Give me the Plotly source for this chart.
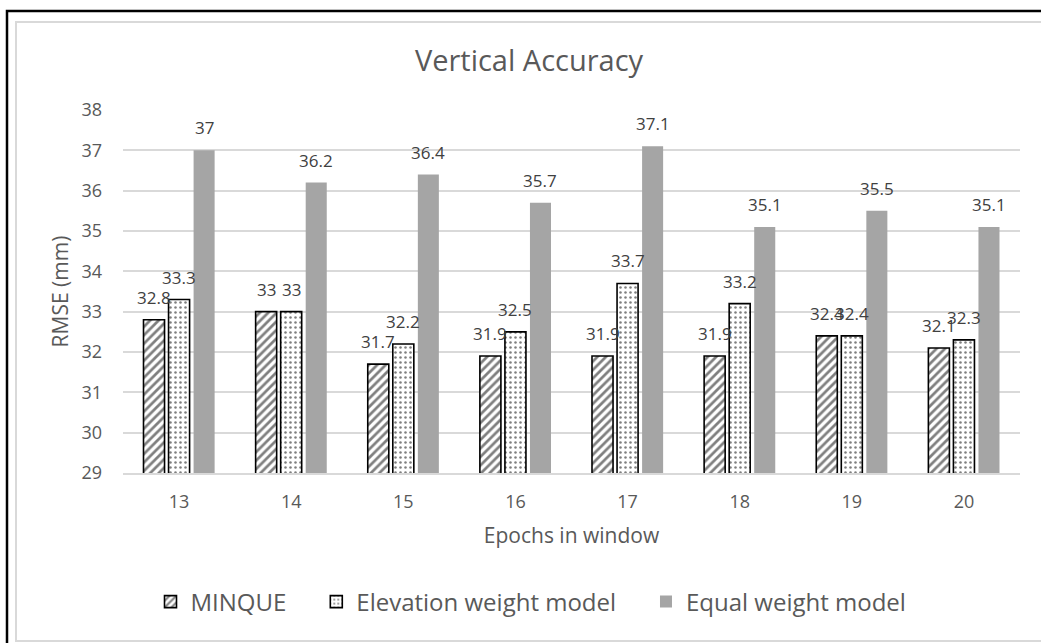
import plotly.graph_objects as go

categories = ["13", "14", "15", "16", "17", "18", "19", "20"]
minque = [32.8, 33, 31.7, 31.9, 31.9, 31.9, 32.4, 32.1]
elevation = [33.3, 33, 32.2, 32.5, 33.7, 33.2, 32.4, 32.3]
equal = [37, 36.2, 36.4, 35.7, 37.1, 35.1, 35.5, 35.1]
series_names = ["MINQUE", "Elevation weight model", "Equal weight model"]
y_ticks = [29, 30, 31, 32, 33, 34, 35, 36, 37, 38]

FONT = "Open Sans"
W, H = 1041, 643
L, R, T, B = 123, 1020, 110, 473
PAD = "\u00a0" * 4  # spacing after legend entries

fig = go.Figure()
fig.add_bar(x=categories, y=minque, name=series_names[0] + PAD,
            marker=dict(color="white", line=dict(color="black", width=1.6),
                        pattern=dict(shape="/", fgcolor="black", bgcolor="white", size=6, solidity=0.45)))
fig.add_bar(x=categories, y=elevation, name=series_names[1] + PAD,
            marker=dict(color="white", line=dict(color="black", width=1.6),
                        pattern=dict(shape=".", fgcolor="black", bgcolor="white", size=5, solidity=0.2)))
fig.add_bar(x=categories, y=equal, name=series_names[2],
            marker=dict(color="#a5a5a5", line=dict(width=0)))

annotations = []
for vals, dx in ((minque, -25), (elevation, 0), (equal, 25)):
    for i, v in enumerate(vals):
        annotations.append(dict(x=i, y=v, xref="x", yref="y", text=f"{v:g}", showarrow=False,
                                xshift=dx, yshift=9, yanchor="bottom",
                                font=dict(family=FONT, size=17, color="#404040")))

def px_x(p):
    return (p - L) / (R - L)

def px_y(p):
    return (B - p) / (B - T)

shapes = [
    dict(type="rect", xref="paper", yref="paper", x0=px_x(16), x1=px_x(1050), y0=px_y(641), y1=px_y(22),
         line=dict(color="#d9d9d9", width=2), fillcolor="rgba(0,0,0,0)", layer="below"),
    dict(type="rect", xref="paper", yref="paper", x0=px_x(7), x1=px_x(1060), y0=px_y(660), y1=px_y(11),
         line=dict(color="black", width=2.5), fillcolor="rgba(0,0,0,0)", layer="below"),
]

fig.update_layout(
    width=W, height=H,
    margin=dict(l=L, r=W - R, t=T, b=H - B, autoexpand=False),
    paper_bgcolor="white", plot_bgcolor="white",
    barmode="group", bargap=0.33, bargroupgap=0.16,
    title=dict(text="Vertical Accuracy", x=529 / W, y=1 - 61 / H, xanchor="center", yanchor="middle",
               font=dict(family=FONT, size=29, color="#595959")),
    font=dict(family=FONT, color="#595959"),
    showlegend=True,
    legend=dict(orientation="h", x=px_x(531), xanchor="center", y=px_y(602), yanchor="middle",
                font=dict(family=FONT, size=24, color="#595959"), itemwidth=30, tracegroupgap=0),
    annotations=annotations,
    shapes=shapes,
)
fig.update_xaxes(type="category", range=[-0.5, 7.5], showgrid=False, showline=True,
                 linecolor="#d9d9d9", linewidth=1.5,
                 tickfont=dict(family=FONT, size=18, color="#595959"), ticks="", ticklabelstandoff=12,
                 title=dict(text="Epochs in window", font=dict(family=FONT, size=21, color="#595959"), standoff=16))
fig.update_yaxes(range=[29, 38], tickvals=y_ticks, showgrid=True, gridcolor="#d9d9d9", gridwidth=1.5,
                 zeroline=False, showline=False, ticks="", ticklabelstandoff=20,
                 tickfont=dict(family=FONT, size=18, color="#595959"),
                 title=dict(text="RMSE (mm)", font=dict(family=FONT, size=21, color="#595959"), standoff=7))

fig.write_html("out.html")
